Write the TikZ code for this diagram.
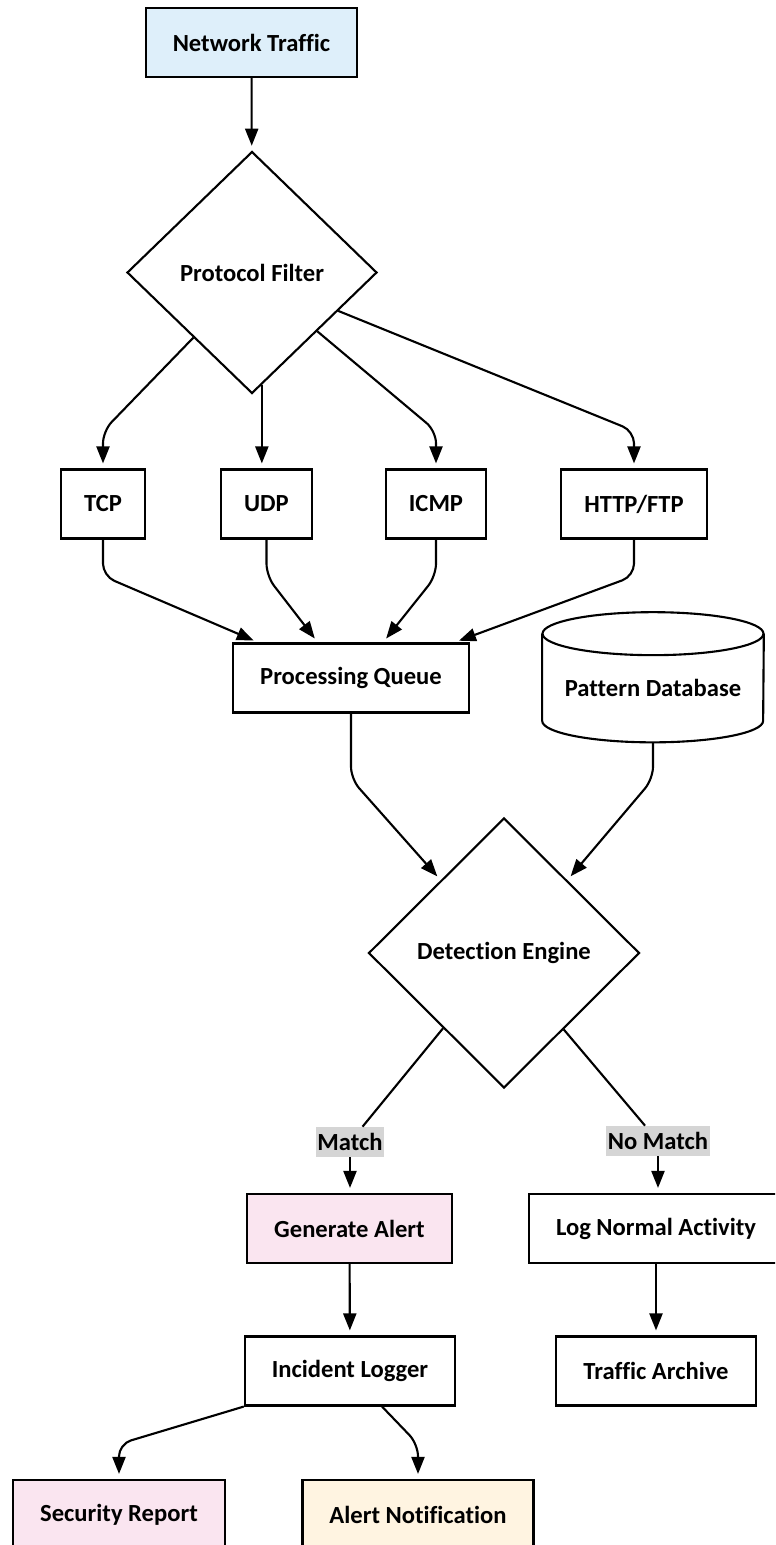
\documentclass[tikz,border=0pt]{standalone}
\usepackage{fontspec}
\setmainfont[Ligatures=NoCommon]{Carlito}
\usetikzlibrary{arrows.meta,shapes.geometric}

\definecolor{trafficBlue}{RGB}{222,239,250}
\definecolor{alertPink}{RGB}{250,229,240}
\definecolor{noteCream}{RGB}{255,244,225}
\definecolor{tagGray}{RGB}{213,213,213}

\begin{document}
\begin{tikzpicture}[
    x=0.02cm, y=-0.02cm,
    font=\bfseries\fontsize{14}{16}\selectfont,
    box/.style={draw, line width=1.2pt, minimum height=1.38cm, inner xsep=0.54cm, align=center},
    proto/.style={box, inner xsep=0.46cm},
    choice/.style={diamond, draw, line width=1.2pt, inner sep=0pt},
    dbtext/.style={minimum width=4.42cm, minimum height=2.16cm, inner sep=0pt},
    tag/.style={fill=tagGray, inner xsep=1pt, inner ysep=0pt, minimum height=0.6cm},
    line/.style={line width=1.2pt},
    link/.style={-{Triangle[length=0.34cm, width=0.26cm]}, line width=1.2pt, shorten >=0.1cm, rounded corners=7pt}
]
\useasboundingbox (0,0) rectangle (775,1545);
\clip (0,0) rectangle (775,1545);

\node[box, fill=trafficBlue] (traffic) at (251.5,42.5) {Network Traffic};
\node[choice, minimum width=5cm, minimum height=4.84cm] (filter) at (252,272.5) {Protocol Filter};
\node[proto] (tcp) at (103,504) {TCP};
\node[proto] (udp) at (266.5,504) {UDP};
\node[proto] (icmp) at (436,504) {ICMP};
\node[proto] (http) at (634,504) {HTTP/FTP};
\node[box] (queue) at (351,678) {Processing Queue};
\node[dbtext] (patterns) at (653,688) {Pattern Database};
\node[choice, minimum width=5.42cm, minimum height=5.4cm] (engine) at (504,953) {Detection Engine};
\node[tag] (match) at (350,1142) {Match};
\node[tag] (nomatch) at (658,1141) {No Match};
\node[box, fill=alertPink] (alert) at (349.5,1228.5) {Generate Alert};
\node[box] (lognormal) at (656,1228.5) {Log Normal Activity};
\node[box] (logger) at (350,1371) {Incident Logger};
\node[box] (archive) at (656,1371) {Traffic Archive};
\node[box, fill=alertPink] (report) at (119,1514.5) {Security Report};
\node[box, fill=noteCream] (notify) at (418,1514.5) {Alert Notification};

% database drum
\draw[line] (patterns.north) ellipse[x radius=2.21cm, y radius=0.43cm];
\draw[line] (patterns.north west) -- ([yshift=0.43cm]patterns.south west)
    arc[start angle=180, end angle=360, x radius=2.21cm, y radius=0.43cm] -- (patterns.north east);

\coordinate (split) at (0,431);
\coordinate (merge) at (0,576);
\coordinate (join) at (0,779);
\coordinate (fan) at (0,1444);

\draw[link] (traffic) -- (filter);
\draw[link] (filter.-132) -- (tcp.north |- split) -- (tcp);
\draw[link] (filter.-85) -- (filter.-85 |- udp.north);
\draw[link] (filter.-42) -- (icmp.north |- split) -- (icmp);
\draw[link] (filter.-24) -- (http.north |- split) -- (http);

\draw[link] (tcp) -- (tcp |- merge) -- (queue.159);
\draw[link] (udp) -- (udp |- merge) -- (queue.133);
\draw[link] (icmp) -- (icmp |- merge) -- (queue.48);
\draw[link] (http) -- (http |- merge) -- (queue.19);

\draw[link] (queue) -- (queue |- join) -- (engine.131);
\draw[link] (patterns) -- (patterns |- join) -- (engine.49);

\draw[line] (engine.-129) -- (match);
\draw[link] (match) -- (match |- alert.north);
\draw[line] (engine.-52) -- (nomatch);
\draw[link] (nomatch) -- (nomatch |- lognormal.north);

\draw[link] (alert) -- (logger);
\draw[link] (lognormal) -- (archive);
\draw[link] (logger.south west) -- (report.north |- fan) -- (report);
\draw[link] (logger.-48) -- (notify.north |- fan) -- (notify);
\end{tikzpicture}
\end{document}
